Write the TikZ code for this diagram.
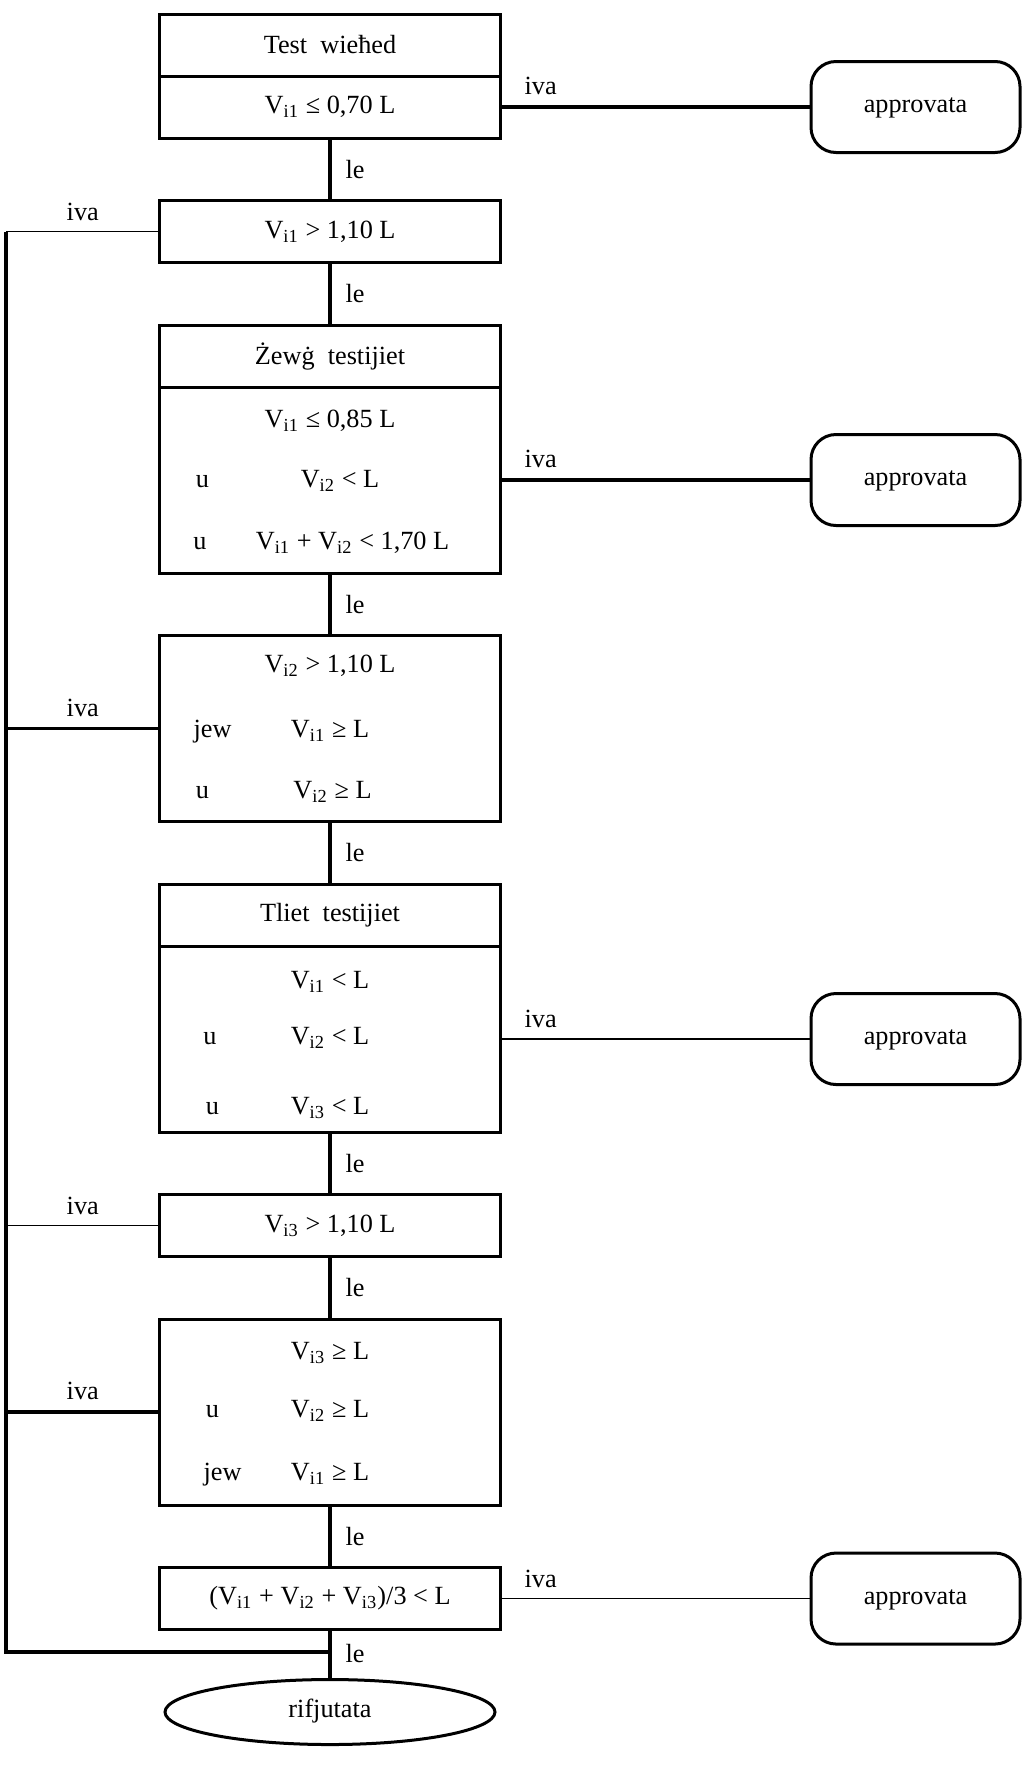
\documentclass[tikz,border=0pt]{standalone}
\usepackage{fontspec}
\setmainfont{Liberation Serif}
\usepackage{tikz}
\usetikzlibrary{shapes.geometric, positioning}

\newcommand{\Vi}[1]{V\textsubscript{i#1}}

\begin{document}
\begin{tikzpicture}[
    x=0.4pt, y=-0.4pt,
    node distance=25pt,
    every node/.style={font=\fontsize{10.5}{12.6}\selectfont},
    cond/.style={rectangle, draw=black, line width=1.2pt, outer sep=0pt, inner sep=0pt, minimum width=136.4pt, minimum height=24.8pt},
    tall/.style={cond, minimum height=74.4pt},
    row/.style={anchor=mid, inner sep=0pt},
    ok/.style={rectangle, draw=black, line width=1.2pt, rounded corners=10pt, minimum width=83.6pt, minimum height=36.4pt, text height=1ex, text depth=0pt},
    reject/.style={ellipse, draw=black, line width=1.2pt, minimum width=132pt, minimum height=26pt, text height=1ex, text depth=0pt},
    lbl/.style={inner sep=2pt},
    thickline/.style={line width=1.5pt},
    thinline/.style={line width=0.7pt}
]
    \useasboundingbox (0,0) rectangle (1027,1781);

    % main column
    \node (one) [cond] at (330,45) {Test\ \ wieħed};
    \node (onec) [cond, below=0pt of one] {\Vi{1} ≤ 0,70 L};
    \node (chk1) [cond, below=of onec] {\Vi{1} > 1,10 L};
    \node (two) [cond, below=of chk1] {Żewġ\ \ testijiet};
    \node (twoc) [tall, below=0pt of two] {};
    \node (chk2) [tall, below=of twoc] {};
    \node (three) [cond, below=of chk2] {Tliet\ \ testijiet};
    \node (threec) [tall, below=0pt of three] {};
    \node (chk3) [cond, below=of threec] {\Vi{3} > 1,10 L};
    \node (chk4) [tall, below=of chk3] {};
    \node (avg) [cond, below=of chk4] {(\Vi{1} + \Vi{2} + \Vi{3})/3 < L};
    \node (rej) [reject, below=19.4pt of avg] {rifjutata};

    % rows inside the tall boxes
    \node (r1a) [row] at ([yshift=-14pt]twoc.north) {\Vi{1} ≤ 0,85 L};
    \node (r1b) [row] at ([xshift=-51pt, yshift=-38pt]twoc.north) {u};
    \node (r1c) [row] at ([xshift=4pt, yshift=-38pt]twoc.north) {\Vi{2} < L};
    \node (r1d) [row] at ([xshift=-52pt, yshift=-62.5pt]twoc.north) {u};
    \node (r1e) [row] at ([xshift=9pt, yshift=-62.5pt]twoc.north) {\Vi{1} + \Vi{2} < 1,70 L};

    \node (r2a) [row] at ([yshift=-12.5pt]chk2.north) {\Vi{2} > 1,10 L};
    \node (r2b) [row] at ([xshift=-47pt, yshift=-38.5pt]chk2.north) {jew};
    \node (r2c) [row] at ([yshift=-38.5pt]chk2.north) {\Vi{1} ≥ L};
    \node (r2d) [row] at ([xshift=-51pt, yshift=-63pt]chk2.north) {u};
    \node (r2e) [row] at ([xshift=1pt, yshift=-63pt]chk2.north) {\Vi{2} ≥ L};

    \node (r3a) [row] at ([yshift=-14.8pt]threec.north) {\Vi{1} < L};
    \node (r3b) [row] at ([xshift=-48pt, yshift=-37.2pt]threec.north) {u};
    \node (r3c) [row] at ([yshift=-37.2pt]threec.north) {\Vi{2} < L};
    \node (r3d) [row] at ([xshift=-47pt, yshift=-65pt]threec.north) {u};
    \node (r3e) [row] at ([yshift=-65pt]threec.north) {\Vi{3} < L};

    \node (r4a) [row] at ([yshift=-14pt]chk4.north) {\Vi{3} ≥ L};
    \node (r4b) [row] at ([xshift=-47pt, yshift=-37.2pt]chk4.north) {u};
    \node (r4c) [row] at ([yshift=-37.2pt]chk4.north) {\Vi{2} ≥ L};
    \node (r4d) [row] at ([xshift=-43pt, yshift=-62.4pt]chk4.north) {jew};
    \node (r4e) [row] at ([yshift=-62.4pt]chk4.north) {\Vi{1} ≥ L};

    % approved
    \node (ok1) [ok, right=123.6pt of onec] {approvata};
    \node (ok2) [ok, right=123.6pt of twoc] {approvata};
    \node (ok3) [ok, right=123.6pt of threec] {approvata};
    \node (ok4) [ok, right=123.6pt of avg] {approvata};

    % le
    \draw [thickline] (onec) -- node[lbl, right=3.5pt] (n1) {le} (chk1);
    \draw [thickline] (chk1) -- node[lbl, right=3.5pt] (n2) {le} (two);
    \draw [thickline] (twoc) -- node[lbl, right=3.5pt] (n3) {le} (chk2);
    \draw [thickline] (chk2) -- node[lbl, right=3.5pt] (n4) {le} (three);
    \draw [thickline] (threec) -- node[lbl, right=3.5pt] (n5) {le} (chk3);
    \draw [thickline] (chk3) -- node[lbl, right=3.5pt] (n6) {le} (chk4);
    \draw [thickline] (chk4) -- node[lbl, right=3.5pt] (n7) {le} (avg);
    \draw [thickline] (avg) -- node[lbl, right=3.5pt] (n8) {le} (rej);

    % iva to the right
    \draw [thickline] (onec) -- node[lbl, pos=0.13, above=2pt] (y1) {iva} (ok1);
    \draw [thickline] (twoc) -- node[lbl, pos=0.13, above=2pt] (y2) {iva} (ok2);
    \draw [thinline] (threec) -- node[lbl, pos=0.13, above=2pt] (y3) {iva} (ok3);
    \draw [thinline] (avg) -- node[lbl, pos=0.13, above=2pt] (y4) {iva} (ok4);

    % iva to the left
    \coordinate (lb) at (6,1652);
    \coordinate (lt) at (chk1.west -| lb);
    \draw [thinline] (chk1) -- node[lbl, above=2pt] (w1) {iva} (lt);
    \draw [thickline] (chk2) -- node[lbl, above=2pt] (w2) {iva} (chk2 -| lb);
    \draw [thinline] (chk3) -- node[lbl, above=2pt] (w3) {iva} (chk3 -| lb);
    \draw [thickline] (chk4) -- node[lbl, above=2pt] (w4) {iva} (chk4 -| lb);
    \draw [thickline] (lt) -- (lb) -- (lb -| rej.north);
\end{tikzpicture}
\end{document}
